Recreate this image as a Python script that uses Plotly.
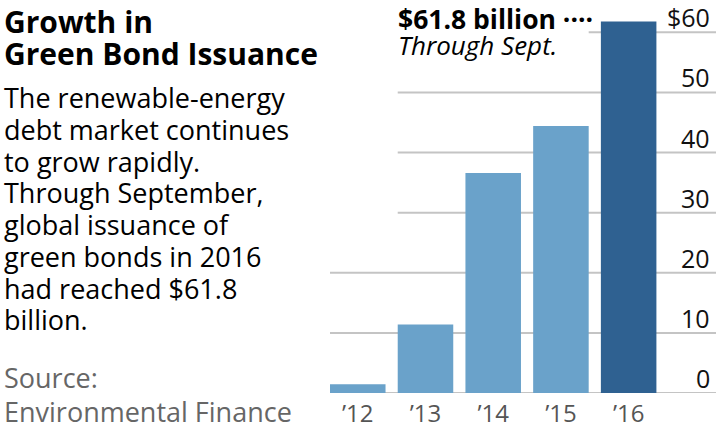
import plotly.graph_objects as go

years = ["’12", "’13", "’14", "’15", "’16"]
values = [1.45, 11.4, 36.6, 44.4, 61.8]
bar_colors = ["#6aa2ca", "#6aa2ca", "#6aa2ca", "#6aa2ca", "#2f6191"]
y_ticks = [0, 10, 20, 30, 40, 50, 60]
y_tick_text = ["0", "10", "20", "30", "40", "50", "$60"]
# category index at which each gridline starts (left edge of a bar, or right edge)
grid_start_cat = [0, 0, 0, 1, 1, 1, 3]
grid_start_side = [-1, -1, -1, -1, -1, -1, 1]

title_lines = ["Growth in", "Green Bond Issuance"]
body_lines = ["The renewable-energy", "debt market continues", "to grow rapidly.",
              "Through September,", "global issuance of", "green bonds in 2016",
              "had reached $61.8", "billion."]
source_lines = ["Source:", "Environmental Finance"]
callout_value = "$61.8 billion"
callout_note = "Through Sept."

W, H = 720, 432
L, R, T, B = 330, 4, 0, 39
FONT = "Open Sans"
BARW = 0.82
PX_PER_UNIT = 6.012

def px_x(p):
    return (p - L) / (W - L - R)

def px_y(p):
    return 1 - (p - T) / (H - T - B)

fig = go.Figure()
fig.add_trace(go.Bar(x=list(range(len(years))), y=values, marker_color=bar_colors,
                     marker_line_width=0, width=BARW, hoverinfo="skip"))

shapes = []
for v, c, s in zip(y_ticks, grid_start_cat, grid_start_side):
    shapes.append(dict(type="line", xref="x", yref="y", x0=c + s * BARW / 2, x1=5.29,
                       y0=v, y1=v, line=dict(color="#c4c4c4", width=2), layer="below"))

def block(lines, x, cap_top, size, leading, color="#000", style=""):
    # one text block: line pitch comes from the base font size (1.3 em), glyphs from the span size
    base = leading / 1.3
    txt = "<br>".join('<span style="font-size:%gpx">%s</span>' % (size, l) for l in lines)
    if style:
        txt = "<%s>%s</%s>" % (style, txt, style)
    return dict(text=txt, xref="paper", yref="paper", x=px_x(x), y=px_y(cap_top - 0.355 * size),
                xanchor="left", yanchor="top", align="left", showarrow=False, borderpad=0,
                font=dict(family=FONT, size=base, color=color))

annotations = [
    block(title_lines, 3, 10.8, 30, 32.2, style="b"),
    block(body_lines, 3, 87.3, 27, 31.76),
    block(source_lines, 3, 368, 27, 34, color="#666"),
    dict(text='<b><span style="font-size:26.5px">%s ····</span></b><br>'
              '<i><span style="font-size:26px">%s</span></i>' % (callout_value, callout_note),
         xref="paper", yref="paper", x=px_x(397), y=px_y(9.6 - 0.355 * 26.5),
         xanchor="left", yanchor="top", align="left", showarrow=False, borderpad=0,
         font=dict(family=FONT, size=26 / 1.3, color="#000")),
]
# value-axis labels, sitting just above their gridlines at the right edge
for v, t in zip(y_ticks, y_tick_text):
    annotations.append(dict(text=t, xref="paper", yref="y", x=px_x(711), y=v,
                            xanchor="right", yanchor="bottom", yshift=-3, showarrow=False,
                            borderpad=0, font=dict(family=FONT, size=25, color="#111")))

fig.update_layout(
    width=W, height=H, margin=dict(l=L, r=R, t=T, b=B, autoexpand=False),
    paper_bgcolor="white", plot_bgcolor="white", showlegend=False,
    shapes=shapes, annotations=annotations,
    xaxis=dict(range=[-BARW / 2, 5.29], tickvals=list(range(len(years))), ticktext=years,
               showgrid=False, zeroline=False, showline=False, ticks="", automargin=False,
               ticklabelstandoff=4,
               tickfont=dict(family=FONT, size=24, color="#555")),
    yaxis=dict(range=[0, (H - T - B) / PX_PER_UNIT], side="right", tickvals=y_ticks,
               showticklabels=False, showgrid=False, zeroline=False, showline=False,
               ticks="", automargin=False),
)

fig.write_html("out.html", config={"displayModeBar": False},
               post_script="document.body.style.margin='0';")
